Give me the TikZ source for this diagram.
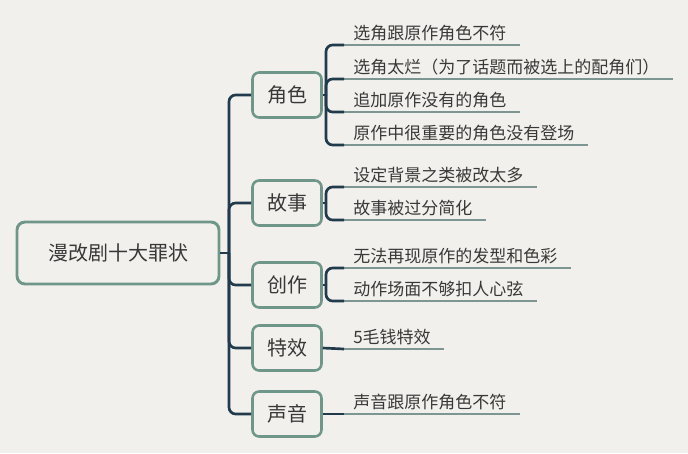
\documentclass[tikz,border=0pt]{standalone}
\usepackage{fontspec}
\setmainfont{Noto Sans CJK SC}
\usepackage{xcolor}
\usetikzlibrary{positioning,calc}
\definecolor{paper}{HTML}{F2F0EC}
\definecolor{frame}{HTML}{6E978A}
\definecolor{link}{HTML}{213A4C}
\definecolor{rule}{HTML}{7D9691}
\definecolor{ink}{HTML}{383838}

\begin{document}
\begin{tikzpicture}[x=0.75pt, y=-0.75pt, text=ink,
  root/.style={draw=frame, line width=2.2pt, rounded corners=6pt, fill=paper,
    minimum width=151.5pt, minimum height=46.5pt, font=\fontsize{15pt}{18pt}\selectfont},
  topic/.style={draw=frame, line width=1.9pt, rounded corners=5pt, fill=paper,
    minimum width=51.75pt, minimum height=33.75pt, font=\fontsize{15pt}{18pt}\selectfont},
  leaf/.style={anchor=south west, inner xsep=6.75pt, inner ysep=3pt,
    text height=0.88em, text depth=0.12em, font=\fontsize{12.75pt}{15pt}\selectfont,
    append after command={(\tikzlastnode.south west) edge[draw=rule, line width=0.8pt]
      ([xshift=3pt]\tikzlastnode.south east)}},
  conn/.style={draw=link, line width=2pt, rounded corners=5pt}]
\fill[paper] (0,0) rectangle (688,453);
\useasboundingbox (0,0) rectangle (688,453);

% centre and topics
\node[root] (main) at (118,253) {漫改剧十大罪状};
\node[topic] (role)  at (287,95)  {角色};
\node[topic] (story) at (287,203) {故事};
\node[topic] (make)  at (287,285) {创作};
\node[topic] (fx)    at (287,348) {特效};
\node[topic] (voice) at (287,414) {声音};

% details
\node[leaf] (role1) at (344,45)  {选角跟原作角色不符};
\node[leaf] (role2) at (344,79)  {选角太烂（为了话题而被选上的配角们）};
\node[leaf] (role3) at (344,112) {追加原作没有的角色};
\node[leaf] (role4) at (344,145) {原作中很重要的角色没有登场};
\node[leaf] (story1) at (344,187) {设定背景之类被改太多};
\node[leaf] (story2) at (344,220) {故事被过分简化};
\node[leaf] (make1) at (344,268) {无法再现原作的发型和色彩};
\node[leaf] (make2) at (344,301) {动作场面不够扣人心弦};
\node[leaf] (fx1)    at (344,349) {5毛钱特效};
\node[leaf] (voice1) at (344,414) {声音跟原作角色不符};

% trunk
\coordinate (trunk) at (229,253);
\draw[conn] (main.east) -- (trunk);
\foreach \t in {role,story,make,fx,voice}
  \draw[conn] (trunk) |- (\t.west);

% brackets
\coordinate (roleb) at (326,95);
\coordinate (storyb) at (326,203);
\coordinate (makeb) at (326,285);
\draw[conn] (role.east) -- (roleb);
\draw[conn] (story.east) -- (storyb);
\draw[conn] (make.east) -- (makeb);
\foreach \l in {role1,role2,role3,role4}
  \draw[conn] (roleb) |- (\l.south west);
\foreach \l in {story1,story2}
  \draw[conn] (storyb) |- (\l.south west);
\foreach \l in {make1,make2}
  \draw[conn] (makeb) |- (\l.south west);
\draw[conn] (fx.east) -- (fx1.south west);
\draw[conn] (voice.east) -- (voice1.south west);
\end{tikzpicture}
\end{document}
